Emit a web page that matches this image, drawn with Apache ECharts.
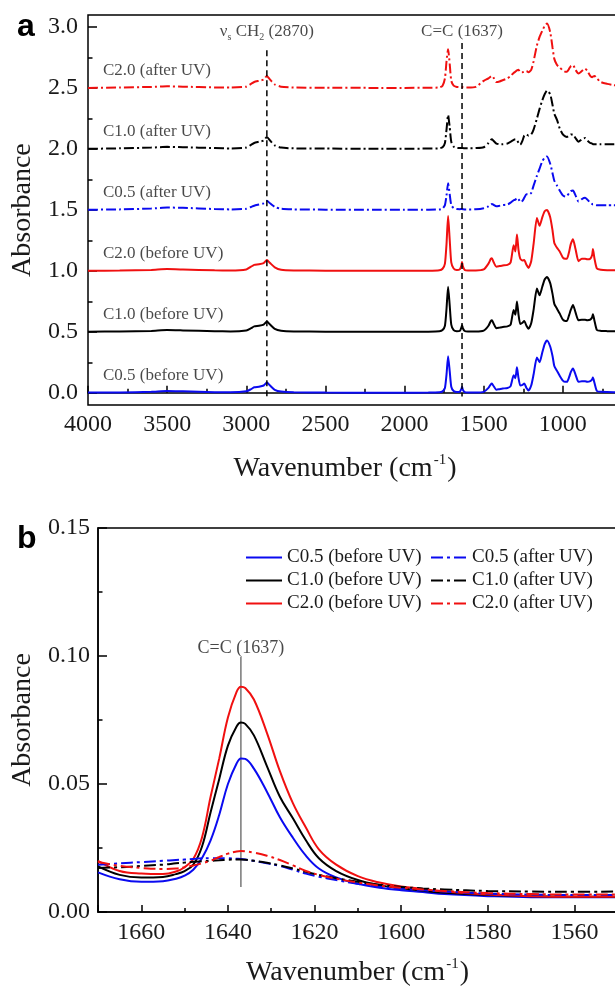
<!DOCTYPE html>
<html><head><meta charset="utf-8">
<script src="https://cdn.jsdelivr.net/npm/echarts@6/dist/echarts.min.js"></script>
<style>html,body{margin:0;padding:0;background:#fff;}#c{width:615px;height:991px;}</style>
</head><body><div id="c"></div>
<script>
// ---------------- DATA ----------------
const seriesNames = ['C0.5 (before UV)','C1.0 (before UV)','C2.0 (before UV)','C0.5 (after UV)','C1.0 (after UV)','C2.0 (after UV)'];
const baselinesA = [0, 0.5, 1.0, 1.5, 2.0, 2.5];
const annotA = ['{t|ν}{sub|s}{t| CH}{sub|2}{t| (2870)}', '{t|C=C (1637)}'];
const annotWnA = [2870, 1637];
const annotB = 'C=C (1637)';
const annotWnB = 1637;

const wnA = [4000,3800,3600,3500,3400,3200,3100,3000,2970,2950,
 2920,2890,2870,2850,2820,2780,2700,2500,2200,2000,
 1850,1780,1760,1745,1735,1725,1715,1705,1690,1670,
 1650,1640,1637,1632,1620,1600,1550,1500,1470,1455,
 1448,1440,1420,1400,1380,1350,1330,1311,1300,1290,
 1280,1269,1255,1244,1230,1217,1200,1185,1164,1147,
 1130,1115,1100,1080,1065,1054,1037,1020,1000,985,
 974,960,950,936,920,901,880,860,845,827,
 815,810,800,785,760,720,680,650];

const c05Before = [0.002,0.003,0.008,0.015,0.012,0.005,0.004,0.012,0.030,0.045,
 0.050,0.060,0.085,0.060,0.025,0.010,0.004,0.002,0.001,0.001,
 0.002,0.005,0.012,0.040,0.150,0.300,0.180,0.050,0.015,0.006,
 0.010,0.035,0.050,0.025,0.006,0.003,0.003,0.008,0.040,0.070,
 0.076,0.060,0.025,0.030,0.035,0.040,0.055,0.145,0.120,0.210,
 0.120,0.060,0.065,0.076,0.040,0.020,0.060,0.150,0.290,0.250,
 0.330,0.400,0.430,0.380,0.300,0.220,0.180,0.140,0.100,0.090,
 0.090,0.130,0.170,0.200,0.150,0.090,0.095,0.095,0.090,0.095,
 0.110,0.125,0.080,0.015,0.008,0.006,0.005,0.005];
const c10Before = [0.502,0.503,0.508,0.515,0.512,0.505,0.504,0.512,0.530,0.545,
 0.550,0.560,0.585,0.560,0.525,0.510,0.504,0.502,0.501,0.501,
 0.502,0.505,0.515,0.550,0.690,0.870,0.720,0.560,0.515,0.506,
 0.510,0.540,0.555,0.530,0.507,0.503,0.503,0.510,0.550,0.590,
 0.596,0.575,0.530,0.535,0.540,0.545,0.560,0.680,0.640,0.750,
 0.640,0.565,0.575,0.590,0.550,0.525,0.570,0.680,0.855,0.800,
 0.870,0.930,0.950,0.900,0.810,0.730,0.690,0.650,0.600,0.590,
 0.590,0.640,0.680,0.720,0.660,0.595,0.600,0.600,0.595,0.600,
 0.620,0.645,0.590,0.515,0.508,0.506,0.505,0.505];
const c20Before = [1.002,1.003,1.008,1.015,1.012,1.005,1.004,1.012,1.035,1.050,
 1.055,1.065,1.090,1.065,1.030,1.010,1.004,1.002,1.001,1.001,
 1.002,1.006,1.018,1.060,1.220,1.450,1.260,1.070,1.020,1.008,
 1.015,1.050,1.074,1.040,1.008,1.004,1.004,1.012,1.060,1.100,
 1.105,1.080,1.035,1.040,1.045,1.050,1.070,1.210,1.160,1.300,
 1.170,1.100,1.085,1.090,1.050,1.025,1.080,1.220,1.435,1.370,
 1.440,1.490,1.500,1.440,1.330,1.230,1.190,1.160,1.110,1.100,
 1.100,1.160,1.220,1.260,1.180,1.080,1.100,1.100,1.095,1.100,
 1.130,1.180,1.100,1.020,1.010,1.006,1.005,1.005];
const c05After = [1.502,1.505,1.512,1.520,1.518,1.508,1.505,1.510,1.525,1.535,
 1.545,1.555,1.575,1.555,1.525,1.510,1.505,1.503,1.502,1.502,
 1.503,1.505,1.512,1.540,1.620,1.720,1.630,1.540,1.515,1.508,
 1.507,1.508,1.508,1.507,1.505,1.505,1.506,1.515,1.530,1.545,
 1.550,1.545,1.530,1.535,1.540,1.545,1.560,1.580,1.585,1.600,
 1.590,1.565,1.575,1.600,1.630,1.625,1.640,1.700,1.780,1.840,
 1.900,1.930,1.940,1.880,1.800,1.740,1.700,1.660,1.620,1.610,
 1.615,1.640,1.655,1.660,1.620,1.570,1.590,1.600,1.585,1.560,
 1.550,1.545,1.545,1.540,1.540,1.540,1.540,1.540];
const c10After = [2.002,2.006,2.012,2.018,2.015,2.008,2.005,2.012,2.035,2.050,
 2.060,2.070,2.100,2.070,2.030,2.012,2.006,2.004,2.003,2.003,
 2.004,2.006,2.015,2.050,2.160,2.280,2.180,2.060,2.020,2.010,
 2.008,2.008,2.008,2.008,2.007,2.007,2.008,2.015,2.050,2.075,
 2.080,2.070,2.045,2.040,2.040,2.045,2.060,2.075,2.080,2.075,
 2.050,2.035,2.070,2.110,2.120,2.110,2.120,2.160,2.250,2.330,
 2.400,2.450,2.480,2.450,2.360,2.290,2.240,2.170,2.120,2.105,
 2.100,2.110,2.120,2.120,2.090,2.060,2.080,2.090,2.070,2.050,
 2.045,2.040,2.040,2.040,2.040,2.040,2.040,2.040];
const c20After = [2.502,2.505,2.510,2.515,2.512,2.506,2.505,2.512,2.535,2.550,
 2.560,2.570,2.600,2.570,2.530,2.512,2.505,2.503,2.502,2.502,
 2.503,2.506,2.520,2.580,2.720,2.820,2.700,2.560,2.520,2.510,
 2.508,2.508,2.508,2.507,2.505,2.505,2.510,2.560,2.580,2.595,
 2.600,2.590,2.550,2.555,2.565,2.580,2.600,2.625,2.635,2.645,
 2.650,2.630,2.630,2.635,2.640,2.630,2.650,2.720,2.850,2.920,
 2.970,3.010,3.030,2.960,2.830,2.740,2.690,2.670,2.645,2.635,
 2.635,2.660,2.680,2.690,2.650,2.620,2.640,2.660,2.640,2.600,
 2.590,2.595,2.600,2.580,2.550,2.535,2.525,2.520];

const wnB = [1670,1665,1660,1655,1652,1650,1648,1646,1644,1642,
 1640,1638,1637,1636,1634,1631,1628,1625,1622,1619,
 1615,1610,1605,1600,1595,1590,1580,1570,1560,1550];
const b05Before = [0.0155,0.0128,0.0118,0.0120,0.0130,0.0142,0.0165,0.0210,0.0280,0.0380,
 0.0500,0.0580,0.0600,0.0598,0.0560,0.0470,0.0370,0.0290,0.0220,0.0170,
 0.0135,0.0110,0.0095,0.0085,0.0078,0.0070,0.0062,0.0058,0.0058,0.0058];
const b10Before = [0.0178,0.0145,0.0135,0.0137,0.0148,0.0160,0.0185,0.0255,0.0390,0.0520,
 0.0650,0.0725,0.0740,0.0735,0.0690,0.0570,0.0450,0.0366,0.0280,0.0210,
 0.0160,0.0125,0.0105,0.0093,0.0083,0.0075,0.0066,0.0062,0.0060,0.0060];
const b20Before = [0.0200,0.0160,0.0150,0.0148,0.0158,0.0175,0.0207,0.0290,0.0450,0.0600,
 0.0760,0.0860,0.0880,0.0875,0.0830,0.0700,0.0550,0.0425,0.0330,0.0245,
 0.0185,0.0140,0.0115,0.0100,0.0090,0.0080,0.0068,0.0062,0.0060,0.0060];
const b05After = [0.0185,0.0190,0.0195,0.0200,0.0203,0.0205,0.0207,0.0210,0.0210,0.0210,
 0.0210,0.0208,0.0207,0.0205,0.0200,0.0190,0.0180,0.0165,0.0150,0.0138,
 0.0125,0.0110,0.0100,0.0092,0.0085,0.0080,0.0072,0.0068,0.0066,0.0066];
const b10After = [0.0172,0.0175,0.0180,0.0185,0.0190,0.0193,0.0196,0.0198,0.0200,0.0202,
 0.0204,0.0205,0.0205,0.0204,0.0200,0.0192,0.0182,0.0170,0.0157,0.0145,
 0.0132,0.0118,0.0106,0.0098,0.0092,0.0088,0.0082,0.0080,0.0079,0.0080];
const b20After = [0.0195,0.0180,0.0172,0.0168,0.0170,0.0175,0.0182,0.0190,0.0200,0.0215,
 0.0228,0.0236,0.0238,0.0237,0.0232,0.0220,0.0203,0.0182,0.0160,0.0145,
 0.0130,0.0115,0.0103,0.0095,0.0088,0.0082,0.0074,0.0070,0.0068,0.0068];

// ---------------- STYLE ----------------
const SERIF = "'Liberation Serif','DejaVu Serif',serif";
const BLUE = '#0a0af0', BLACK = '#000000', RED = '#f01010';
const colors = [BLUE, BLACK, RED, BLUE, BLACK, RED];
const dashA = [10, 3, 2, 3];
const dashB = [12, 4, 3, 4];
const TXT = '#1a1a1a';

const zip = (xs, ys) => xs.map((x, i) => [x, ys[i]]);
const seriesA = [c05Before, c10Before, c20Before, c05After, c10After, c20After];
const seriesB = [b05Before, b10Before, b20Before, b05After, b10After, b20After];

const chart = echarts.init(document.getElementById('c'), null, {renderer: 'canvas'});

const axisNameRich = {
  t: {fontSize: 28, fontFamily: SERIF, color: TXT, lineHeight: 32},
  s: {fontSize: 15, fontFamily: SERIF, color: TXT, verticalAlign: 'top', lineHeight: 32, padding: [0, 1, 16, 1]}
};

const series = [];
seriesB.forEach((ys, i) => series.push({
  name: seriesNames[i], type: 'line', xAxisIndex: 2, yAxisIndex: 2,
  data: zip(wnB, ys), symbol: 'none', showSymbol: false, smooth: 0.4, z: 3,
  lineStyle: {color: colors[i], width: 2, type: i < 3 ? 'solid' : dashB},
  itemStyle: {color: colors[i]}
}));
seriesA.forEach((ys, i) => series.push({
  name: 'a ' + seriesNames[i], type: 'line', xAxisIndex: 0, yAxisIndex: 0,
  data: zip(wnA, ys), symbol: 'none', smooth: 0.2, z: 3,
  lineStyle: {color: colors[i], width: 2, type: i < 3 ? 'solid' : dashA}
}));
annotWnA.forEach((w, k) => series.push({
  type: 'line', xAxisIndex: 0, yAxisIndex: 0, symbol: 'none', z: 4,
  data: [[w, k === 0 ? 2.81 : 2.87], [w, -0.03]],
  lineStyle: {color: '#000', width: 1.5, type: [6, 4]}
}));
series.push({
  type: 'scatter', xAxisIndex: 0, yAxisIndex: 0, symbolSize: 0.1, z: 5,
  itemStyle: {color: 'rgba(0,0,0,0)'},
  data: seriesNames.map((n, i) => [3906, baselinesA[i] + 0.145, n]),
  label: {show: true, position: 'right', distance: 0, formatter: p => p.value[2],
    fontFamily: SERIF, fontSize: 17, color: TXT}
});
series.push({
  type: 'scatter', xAxisIndex: 0, yAxisIndex: 0, symbolSize: 0.1, z: 5,
  itemStyle: {color: 'rgba(0,0,0,0)'},
  data: annotWnA.map((w, k) => [w, 2.965, annotA[k]]),
  label: {show: true, position: 'inside', formatter: p => p.value[2],
    rich: {
      t: {fontFamily: SERIF, fontSize: 17, color: TXT, lineHeight: 22},
      sub: {fontFamily: SERIF, fontSize: 10, color: TXT, verticalAlign: 'bottom', lineHeight: 22, padding: [6, 0, 0, 0]}
    }}
});
series.push({
  type: 'line', xAxisIndex: 2, yAxisIndex: 2, symbol: 'none', z: 2,
  data: [[annotWnB, 0.0098], [annotWnB, 0.0996]],
  lineStyle: {color: '#555', width: 1.2}
});
series.push({
  type: 'scatter', xAxisIndex: 2, yAxisIndex: 2, symbolSize: 0.1, z: 5,
  itemStyle: {color: 'rgba(0,0,0,0)'},
  data: [[annotWnB, 0.1031, annotB]],
  label: {show: true, position: 'inside', formatter: p => p.value[2],
    fontFamily: SERIF, fontSize: 18, color: TXT}
});

const legendCommon = {
  orient: 'vertical', itemGap: 4, itemWidth: 36, itemHeight: 14, selectedMode: false,
  itemStyle: {opacity: 0, borderWidth: 0},
  textStyle: {fontFamily: SERIF, fontSize: 19, color: TXT, lineHeight: 19}
};

const plainNum = v => String(v);

const option = {
  animation: false,
  backgroundColor: '#fff',
  title: [
    {text: 'a', left: 12, top: 6, textStyle: {fontFamily: "'Liberation Sans',Arial,sans-serif", fontWeight: 'bold', fontSize: 32, color: '#000'}},
    {text: 'b', left: 12, top: 518, textStyle: {fontFamily: "'Liberation Sans',Arial,sans-serif", fontWeight: 'bold', fontSize: 32, color: '#000'}}
  ],
  legend: [
    Object.assign({left: 240, top: 543, data: seriesNames.slice(0, 3)}, legendCommon),
    Object.assign({left: 425, top: 543, data: seriesNames.slice(3)}, legendCommon)
  ],
  grid: [
    {left: 88, top: 15, width: 554, height: 390, show: true, borderColor: '#000', borderWidth: 1.5, containLabel: false, outerBoundsMode: 'none'},
    {left: 88, top: 27.2, width: 554, height: 365.8, containLabel: false, outerBoundsMode: 'none'},
    {left: 98, top: 528, width: 563, height: 384, show: true, borderColor: '#000', borderWidth: 1.5, containLabel: false, outerBoundsMode: 'none'}
  ],
  xAxis: [
    {gridIndex: 0, type: 'value', inverse: true, min: 500, max: 4000, interval: 500,
      axisLine: {show: true, lineStyle: {color: '#000', width: 1.5}},
      axisTick: {show: true, inside: true, length: 7, lineStyle: {color: '#000', width: 1.5}},
      minorTick: {show: true, splitNumber: 2, length: 4, lineStyle: {color: '#000', width: 1.5}},
      splitLine: {show: false},
      axisLabel: {fontFamily: SERIF, fontSize: 24, color: TXT, margin: 8, formatter: plainNum},
      name: '{t|Wavenumber (cm}{s|-1}{t|)}', nameLocation: 'middle', nameGap: 48,
      nameTextStyle: {rich: axisNameRich, padding: [0, 40, 0, 0]}},
    {gridIndex: 1, type: 'value', show: false, min: 500, max: 4000},
    {gridIndex: 2, type: 'value', inverse: true, min: 1540, max: 1670, interval: 20,
      axisLine: {show: true, lineStyle: {color: '#000', width: 1.5}},
      axisTick: {show: true, inside: true, length: 7, lineStyle: {color: '#000', width: 1.5}},
      minorTick: {show: true, splitNumber: 2, length: 4, lineStyle: {color: '#000', width: 1.5}},
      splitLine: {show: false},
      axisLabel: {fontFamily: SERIF, fontSize: 24, color: TXT, margin: 9, formatter: plainNum},
      name: '{t|Wavenumber (cm}{s|-1}{t|)}', nameLocation: 'middle', nameGap: 45,
      nameTextStyle: {rich: axisNameRich, padding: [0, 44, 0, 0]}}
  ],
  yAxis: [
    {gridIndex: 0, type: 'value', min: -0.1, max: 3.1, show: false},
    {gridIndex: 1, type: 'value', min: 0, max: 3, interval: 0.5,
      axisLine: {show: false},
      axisTick: {show: true, inside: true, length: 9, lineStyle: {color: '#000', width: 1.5}},
      minorTick: {show: true, splitNumber: 2, length: 4.5, lineStyle: {color: '#000', width: 1.5}},
      splitLine: {show: false},
      axisLabel: {fontFamily: SERIF, fontSize: 24, color: TXT, margin: 10, formatter: v => v.toFixed(1)},
      name: 'Absorbance', nameLocation: 'middle', nameGap: 45, nameRotate: 90,
      nameTextStyle: {fontFamily: SERIF, fontSize: 28, color: TXT}},
    {gridIndex: 2, type: 'value', min: 0, max: 0.15, interval: 0.05,
      axisLine: {show: true, lineStyle: {color: '#000', width: 1.5}},
      axisTick: {show: true, inside: true, length: 9, lineStyle: {color: '#000', width: 1.5}},
      minorTick: {show: true, splitNumber: 2, length: 4.5, lineStyle: {color: '#000', width: 1.5}},
      splitLine: {show: false},
      axisLabel: {fontFamily: SERIF, fontSize: 24, color: TXT, margin: 8, formatter: v => v.toFixed(2)},
      name: 'Absorbance', nameLocation: 'middle', nameGap: 55, nameRotate: 90,
      nameTextStyle: {fontFamily: SERIF, fontSize: 28, color: TXT}}
  ],
  series: series
};
chart.setOption(option);
</script>
</body></html>
